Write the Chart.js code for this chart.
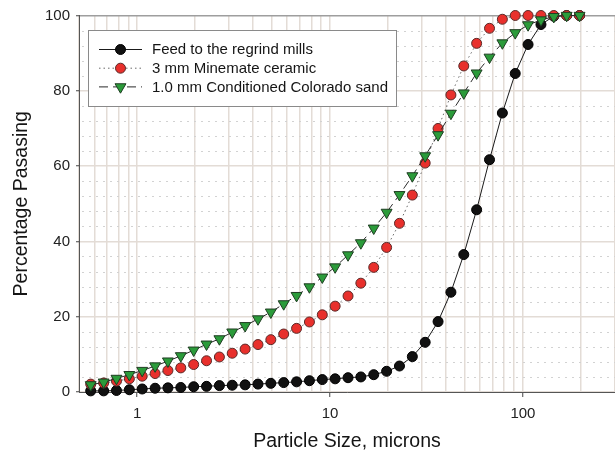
<!DOCTYPE html>
<html>
<head>
<meta charset="utf-8">
<script src="https://cdn.jsdelivr.net/npm/chart.js@4.4.1/dist/chart.umd.min.js"></script>
<style>
    html, body { margin: 0; padding: 0; overflow: hidden; background: #fff; }
    canvas { display: block; }
</style>
</head>
<body>
<canvas id="grading" width="615" height="454"></canvas>
<script>
// particle sizes in microns (x of each marker)
var sizes = [0.575, 0.671, 0.782, 0.912, 1.063, 1.240, 1.445, 1.685, 1.965, 2.291,
             2.671, 3.113, 3.631, 4.233, 4.935, 5.754, 6.709, 7.822, 9.120, 10.63,
             12.40, 14.45, 16.85, 19.65, 22.91, 26.71, 31.13, 36.31, 42.33, 49.35,
             57.54, 67.09, 78.22, 91.20, 106.3, 124.0, 144.5, 168.5, 196.5];

// percentage passing for each sample
var feedMills = [0.3, 0.3, 0.4, 0.6, 0.8, 1.0, 1.1, 1.2, 1.4, 1.5,
                 1.7, 1.8, 1.9, 2.1, 2.3, 2.5, 2.7, 3.0, 3.3, 3.5,
                 3.8, 4.0, 4.6, 5.5, 6.9, 9.4, 13.2, 18.7, 26.5, 36.5,
                 48.4, 61.7, 74.1, 84.6, 92.3, 97.6, 99.8, 100, 100];
var minemate = [2.1, 2.4, 2.9, 3.5, 4.2, 4.9, 5.7, 6.4, 7.3, 8.3,
                9.3, 10.3, 11.4, 12.6, 13.9, 15.4, 16.9, 18.6, 20.5, 22.8,
                25.5, 28.9, 33.1, 38.4, 44.8, 52.3, 60.8, 70.0, 78.9, 86.6,
                92.6, 96.6, 99.0, 100, 100, 100, 100, 100, 100];
var coloradoSand = [1.9, 2.6, 3.6, 4.6, 5.7, 6.9, 8.2, 9.6, 11.1, 12.7,
                    14.1, 15.9, 17.6, 19.4, 21.2, 23.4, 25.6, 27.9, 30.5, 33.2,
                    36.4, 39.6, 43.5, 47.7, 52.4, 57.4, 62.7, 68.3, 74.0, 79.4,
                    84.7, 88.9, 92.7, 95.4, 97.5, 98.8, 99.7, 100, 100];

var seriesNames = ["Feed to the regrind mills", "3 mm Minemate ceramic", "1.0 mm Conditioned Colorado sand"];
var xTickLabels = [1, 10, 100];

var FONT = "'Liberation Sans', Arial, sans-serif";

function toPoints(vals) {
    return sizes.map(function (s, i) { return { x: s, y: vals[i] }; });
}

// true for 1,2,..9 x 10^n (log ticks also come at 1.5, 15, 150)
function wholeDigit(v) {
    var m = v / Math.pow(10, Math.floor(Math.log10(v) + 1e-9));
    return Math.abs(m - Math.round(m)) < 1e-6;
}
function isLabelled(v) {
    return xTickLabels.some(function (t) { return Math.abs(t - v) < 1e-9; });
}

// dotted minor lines on y, every 4 %
var minorGrid = {
    id: "minorGrid",
    beforeDatasetsDraw: function (chart) {
        var ctx = chart.ctx, a = chart.chartArea, y = chart.scales.y;
        ctx.save();
        ctx.strokeStyle = "#d2d2d2";
        ctx.lineWidth = 1;
        ctx.setLineDash([2, 5]);
        for (var v = 4; v < 100; v += 4) {
            if (v % 20 === 0) continue;
            var py = Math.round(y.getPixelForValue(v)) + 0.5;
            ctx.beginPath();
            ctx.moveTo(a.left + 3, py);
            ctx.lineTo(a.right, py);
            ctx.stroke();
        }
        ctx.restore();
    }
};

// boxed legend in the upper left of the plot
var boxLegend = {
    id: "boxLegend",
    afterDraw: function (chart) {
        var ctx = chart.ctx;
        var bx = 88.5, by = 30.5, bw = 308, bh = 76;
        ctx.save();
        ctx.fillStyle = "#fff";
        ctx.fillRect(bx, by, bw, bh);
        ctx.strokeStyle = "#8a8a8a";
        ctx.lineWidth = 1;
        ctx.strokeRect(bx, by, bw, bh);
        chart.data.datasets.forEach(function (ds, i) {
            var cy = 49.5 + i * 18.7;
            ctx.strokeStyle = ds.borderColor;
            ctx.lineWidth = ds.borderWidth;
            ctx.setLineDash(ds.borderDash || []);
            ctx.beginPath();
            ctx.moveTo(99, cy);
            ctx.lineTo(142, cy);
            ctx.stroke();
            ctx.setLineDash([]);
            ctx.fillStyle = ds.pointBackgroundColor;
            ctx.strokeStyle = ds.pointBorderColor;
            ctx.lineWidth = 1;
            var cx = 120.5;
            ctx.beginPath();
            if (ds.pointStyle === "triangle") {
                var r = ds.pointRadius;
                ctx.moveTo(cx - r * 0.866, cy - r * 0.5);
                ctx.lineTo(cx + r * 0.866, cy - r * 0.5);
                ctx.lineTo(cx, cy + r);
                ctx.closePath();
            } else {
                ctx.arc(cx, cy, ds.pointRadius, 0, Math.PI * 2);
            }
            ctx.fill();
            ctx.stroke();
            ctx.fillStyle = "#151515";
            ctx.font = "15px " + FONT;
            ctx.textBaseline = "middle";
            ctx.textAlign = "left";
            ctx.fillText(ds.label, 152, cy + 0.5);
        });
        ctx.restore();
    }
};

var ctx1 = document.getElementById("grading");

var chart1 = new Chart(ctx1, {
    type: "line",
    data: {
        datasets: [
            {
                label: seriesNames[0],
                data: toPoints(feedMills),
                borderColor: "#1a1a1a",
                borderWidth: 1,
                pointStyle: "circle",
                pointRadius: 5,
                pointBackgroundColor: "#111111",
                pointBorderColor: "#000000",
                pointBorderWidth: 1,
                order: 3,
                clip: false
            },
            {
                label: seriesNames[1],
                data: toPoints(minemate),
                borderColor: "#6a6a6a",
                borderWidth: 1,
                borderDash: [1.5, 3],
                pointStyle: "circle",
                pointRadius: 5,
                pointBackgroundColor: "#e8302c",
                pointBorderColor: "#5a2a28",
                pointBorderWidth: 1,
                order: 2,
                clip: false
            },
            {
                label: seriesNames[2],
                data: toPoints(coloradoSand),
                borderColor: "#2a2a2a",
                borderWidth: 1,
                borderDash: [9, 5],
                pointStyle: "triangle",
                rotation: 180,
                pointRadius: 6.3,
                pointBackgroundColor: "#2b9b3a",
                pointBorderColor: "#1f3d22",
                pointBorderWidth: 1,
                order: 1,
                clip: false
            }
        ]
    },
    options: {
        responsive: false,
        animation: false,
        devicePixelRatio: 1,
        layout: { autoPadding: false, padding: { top: 15.5, right: 0, left: 0, bottom: 0 } },
        plugins: {
            legend: { display: false },
            tooltip: { enabled: false }
        },
        elements: { line: { tension: 0 } },
        scales: {
            x: {
                type: "logarithmic",
                min: 0.5,
                max: 300,
                afterFit: function (s) {
                    s.height = 62;
                    s.paddingLeft = 0;
                    s.paddingRight = 0;
                },
                border: { color: "#555", width: 1 },
                grid: {
                    color: function (c) {
                        return c.tick && wholeDigit(c.tick.value) ? "#e3dcd6" : "rgba(0,0,0,0)";
                    },
                    lineWidth: 1.5,
                    tickLength: 5,
                    tickColor: function (c) {
                        return c.tick && isLabelled(c.tick.value) ? "#444" : "rgba(0,0,0,0)";
                    },
                    tickWidth: 1
                },
                ticks: {
                    autoSkip: false,
                    maxRotation: 0,
                    padding: 8,
                    color: "#222",
                    font: { family: FONT, size: 15 },
                    callback: function (v) { return isLabelled(v) ? String(v) : ""; }
                },
                title: {
                    display: true,
                    text: "Particle Size, microns",
                    color: "#151515",
                    font: { family: FONT, size: 19.5 },
                    padding: { top: 0, bottom: 1 }
                }
            },
            y: {
                min: 0,
                max: 100,
                afterFit: function (s) { s.width = 79; },
                border: { color: "#555", width: 1 },
                grid: {
                    color: function (c) {
                        return c.tick && c.tick.value === 100 ? "#9e9e9e" : "#e3dcd6";
                    },
                    lineWidth: 1.5,
                    tickLength: 3,
                    tickColor: "#444",
                    tickWidth: 1
                },
                ticks: {
                    stepSize: 20,
                    padding: 6,
                    color: "#222",
                    font: { family: FONT, size: 15 }
                },
                title: {
                    display: true,
                    text: "Percentage Pasasing",
                    color: "#151515",
                    font: { family: FONT, size: 19.5 },
                    padding: { top: 10, bottom: 0 }
                }
            }
        }
    },
    plugins: [minorGrid, boxLegend]
});
</script>
</body>
</html>
